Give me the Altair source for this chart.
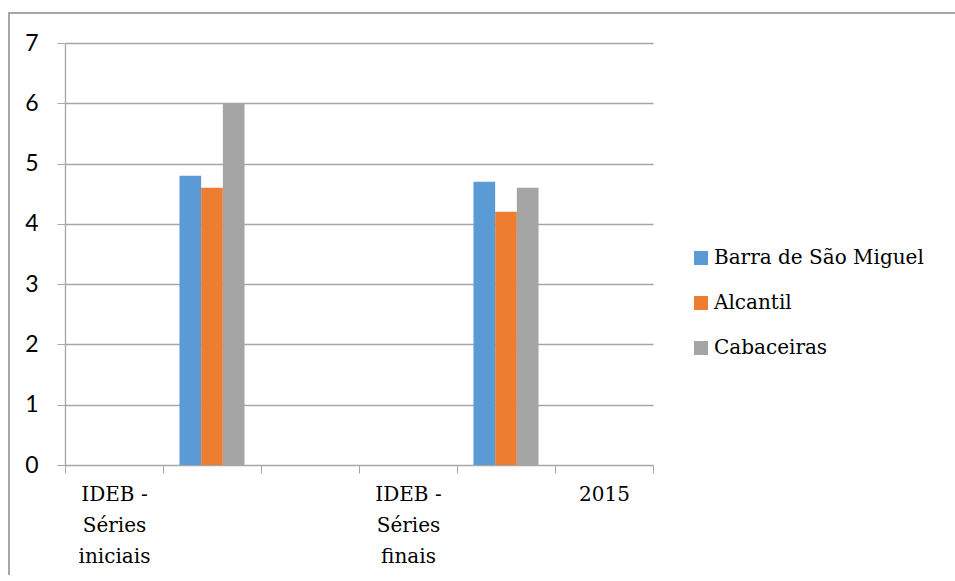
import json
import altair as alt
import pandas as pd

# Category slots along the x axis (blank slots carry no label)
slot_labels = ["IDEB - Séries iniciais", "", "", "IDEB - Séries finais", "", "2015"]
series = ["Barra de São Miguel", "Alcantil", "Cabaceiras"]
colors = ["#5B9BD5", "#ED7D31", "#A5A5A5"]

# IDEB scores per municipality
iniciais_slot = 1
iniciais_values = [4.8, 4.6, 6.0]
finais_slot = 4
finais_values = [4.7, 4.2, 4.6]

rows = []
for s, v in zip(series, iniciais_values):
    rows.append({"slot": iniciais_slot, "serie": s, "valor": v})
for s, v in zip(series, finais_values):
    rows.append({"slot": finais_slot, "serie": s, "valor": v})
df = pd.DataFrame(rows)

# Multi-line tick labels: break after " - " and between words
label_lines = []
for lab in slot_labels:
    if " - " in lab:
        head, tail = lab.split(" - ", 1)
        label_lines.append([head + " -"] + tail.split(" "))
    else:
        label_lines.append([lab])
label_expr = json.dumps(label_lines, ensure_ascii=False) + "[datum.value]"

grid_color = "#A6A6A6"
serif = "DejaVu Serif"

bars = alt.Chart(df).mark_bar().encode(
    x=alt.X(
        "slot:O",
        scale=alt.Scale(domain=list(range(len(slot_labels))), paddingInner=0, paddingOuter=0),
        axis=alt.Axis(
            title=None,
            labelExpr=label_expr,
            labelAngle=0,
            labelFont=serif,
            labelFontSize=20,
            labelColor="#000000",
            labelLineHeight=31,
            labelPadding=11,
            labelBaseline="top",
            tickBand="extent",
            tickSize=8,
            tickColor=grid_color,
            domain=False,
            grid=False,
        ),
    ),
    xOffset=alt.XOffset(
        "serie:N",
        sort=series,
        scale=alt.Scale(paddingInner=0, paddingOuter=0.76),
    ),
    y=alt.Y(
        "valor:Q",
        scale=alt.Scale(domain=[0, 7], nice=False),
        axis=alt.Axis(
            title=None,
            values=list(range(8)),
            format="d",
            labelFont="Lato",
            labelFontSize=23,
            labelColor="#000000",
            labelPadding=19,
            tickSize=8,
            tickColor=grid_color,
            gridColor=grid_color,
            gridWidth=1.3,
            domainColor=grid_color,
            domainWidth=1.3,
        ),
    ),
    color=alt.Color(
        "serie:N",
        sort=series,
        scale=alt.Scale(domain=series, range=colors),
        legend=alt.Legend(
            title=None,
            orient="none",
            legendX=626,
            legendY=205,
            symbolType="square",
            symbolSize=196,
            symbolStrokeWidth=0,
            labelFont=serif,
            labelFontSize=20,
            labelColor="#000000",
            labelOffset=3,
            labelLimit=400,
            rowPadding=25,
        ),
    ),
)

# Outer frame of the chart (right and bottom edges fall outside the canvas)
frame = alt.Chart(df).mark_rect(
    fillOpacity=0, stroke=grid_color, strokeWidth=1.3
).encode(
    x=alt.value(-56), x2=alt.value(920), y=alt.value(-30), y2=alt.value(580)
)

chart = (
    alt.layer(frame, bars)
    .properties(
        width=588,
        height=422,
        autosize=alt.AutoSizeParams(type="none"),
        padding={"left": 65, "top": 43, "right": 302, "bottom": 110},
        background="#FFFFFF",
    )
    .configure_view(stroke=None)
)

chart.save("out.html", embed_options={"renderer": "svg", "actions": False})
